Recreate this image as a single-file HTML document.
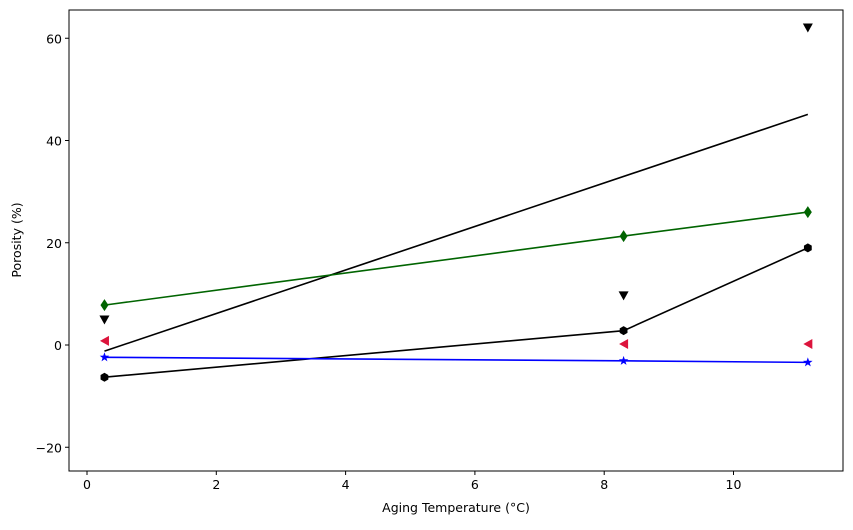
<!DOCTYPE html>
<html><head><meta charset="utf-8"><style>
body{margin:0;background:#fff;font-family:"Liberation Sans","DejaVu Sans",sans-serif}
svg text{font-family:"DejaVu Sans","Liberation Sans",sans-serif;font-size:12.5px}
</style></head><body>
<svg id="c" width="853" height="525"></svg>
<script>
const xs=[0.27,8.3,11.15];
const greenVals=[7.8,21.3,26.0];
const hexVals=[-6.3,2.8,19.0];
const blueVals=[-2.4,-3.1,-3.4];
const fitVals=[-1.2,45.1];
const triDownVals=[4.9,9.6,62.0];
const triLeftVals=[0.8,0.2,0.2];
const xTicks=[0,2,4,6,8,10];
const yTicks=[-20,0,20,40,60];
const L=69,R=843,T=10,B=471;
const X=v=>87+v*64.65, Y=v=>345-v*5.1125;
const svg=document.getElementById('c');const NS='http://www.w3.org/2000/svg';
function el(t,a,name,p){const e=document.createElementNS(NS,t);for(const k in a)e.setAttribute(k,a[k]);


(p||svg).appendChild(e);return e;}
function line(vals,xv,color,name){el('polyline',{points:vals.map((v,i)=>X(xv[i])+','+Y(v)).join(' '),fill:'none',stroke:color,'stroke-width':1.6},name);}
line(fitVals,[xs[0],xs[2]],'#000','fit-line');
line(greenVals,xs,'#006400','green-line');
line(hexVals,xs,'#000','hexagon-line');
line(blueVals,xs,'#0000ff','blue-line');
greenVals.forEach((v,i)=>{const x=X(xs[i]),y=Y(v);el('polygon',{points:`${x},${y-6} ${x+4},${y} ${x},${y+6} ${x-4},${y}`,fill:'#006400'},'green-diamond-'+i);});
hexVals.forEach((v,i)=>{const x=X(xs[i]),y=Y(v);let p=[];for(let k=0;k<6;k++){const a=Math.PI/3*k+Math.PI/6;p.push((x+4.5*Math.cos(a))+','+(y+4.5*Math.sin(a)));}el('polygon',{points:p.join(' '),fill:'#000'},'hexagon-marker-'+i);});
blueVals.forEach((v,i)=>{const x=X(xs[i]),y=Y(v);let p=[];for(let k=0;k<10;k++){const r=k%2?2:5,a=-Math.PI/2+k*Math.PI/5;p.push((x+r*Math.cos(a))+','+(y+r*Math.sin(a)));}el('polygon',{points:p.join(' '),fill:'#0000ff'},'blue-star-'+i);});
triDownVals.forEach((v,i)=>{const x=X(xs[i]),y=Y(v);el('polygon',{points:`${x-5},${y-4.5} ${x+5},${y-4.5} ${x},${y+4.5}`,fill:'#000'},'down-triangle-'+i);});
triLeftVals.forEach((v,i)=>{const x=X(xs[i]),y=Y(v);el('polygon',{points:`${x-4.5},${y} ${x+4.5},${y-5} ${x+4.5},${y+5}`,fill:'#dc143c'},'left-triangle-'+i);});
el('rect',{x:L,y:T,width:R-L,height:B-T,fill:'none',stroke:'#000','stroke-width':1},'plot-frame');
xTicks.forEach(t=>{const x=X(t);el('line',{x1:x,x2:x,y1:B,y2:B+4,stroke:'#000'},'x-tick');const tx=el('text',{x:x,y:B+18,'text-anchor':'middle'},'x-tick-label');tx.textContent=t;});
yTicks.forEach(t=>{const y=Y(t);el('line',{x1:L-4,x2:L,y1:y,y2:y,stroke:'#000'},'y-tick');const tx=el('text',{x:L-7,y:y+5,'text-anchor':'end'},'y-tick-label');tx.textContent=t<0?'\u2212'+(-t):t;});
const xl=el('text',{x:456,y:512,'text-anchor':'middle'},'x-axis-title');xl.textContent='Aging Temperature (°C)';
const yl=el('text',{x:21,y:240,'text-anchor':'middle',transform:'rotate(-90 21 240)'},'y-axis-title');yl.textContent='Porosity (%)';
</script>
</body></html>
